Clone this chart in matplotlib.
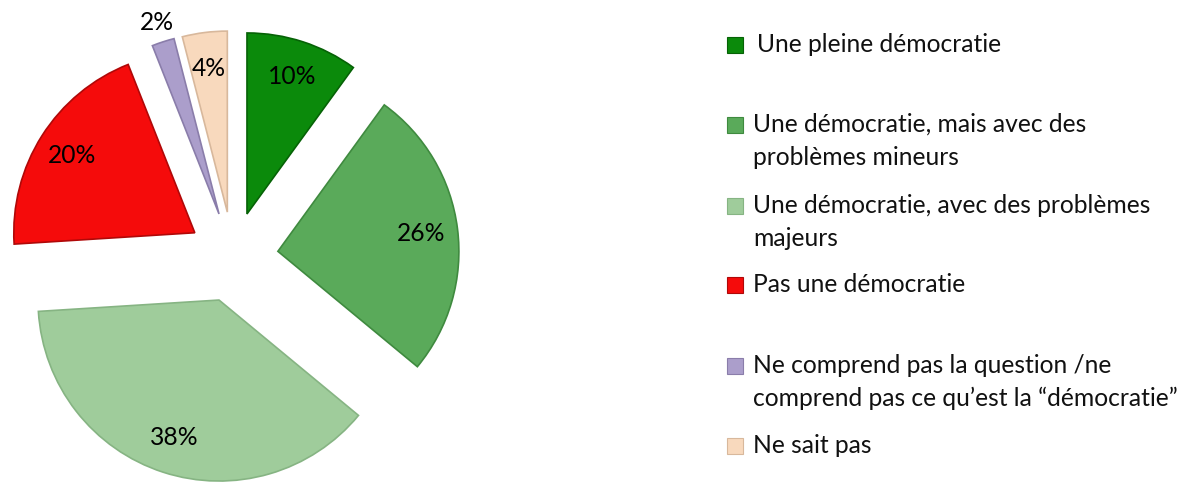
import numpy as np
import matplotlib
matplotlib.use("Agg")
import matplotlib.pyplot as plt
from matplotlib.patches import Rectangle

# data
labels = [
    "Une pleine démocratie",
    "Une démocratie, mais avec des\nproblèmes mineurs",
    "Une démocratie, avec des problèmes\nmajeurs",
    "Pas une démocratie",
    "Ne comprend pas la question /ne\ncomprend pas ce qu\u2019est la \u201cdémocratie\u201d",
    "Ne sait pas",
]
shares = [10, 26, 38, 20, 2, 4]
colors = ["#0b8a0b", "#5aaa5a", "#9fcc9b", "#f50b0b", "#ab9ecb", "#f8d9bd"]
edges = ["#066206", "#3f8a3f", "#86b483", "#b00808", "#8a7daa", "#d8b89c"]

plt.rcParams['font.family'] = ['Lato', 'DejaVu Sans']
FS = 17.7

W, H = 1201, 483
fig = plt.figure(figsize=(W / 100, H / 100), dpi=100)

# pie axes: 181 px per unit radius, centre at (233, 257) px from top-left
R = 181.0
cx, cy = 233.0, 257.0
lim = 1.3
ax = fig.add_axes([(cx - lim * R) / W, (H - cy - lim * R) / H,
                   2 * lim * R / W, 2 * lim * R / H])

wedges, texts, autotexts = ax.pie(
    shares, colors=colors, startangle=90, counterclock=False,
    explode=[0.25] * len(shares), autopct='%d%%', pctdistance=0.8,
    wedgeprops=dict(linewidth=1.2), textprops=dict(fontsize=FS))
for w, ec in zip(wedges, edges):
    w.set_edgecolor(ec)

# the 2% label sits outside its thin slice
w = wedges[4]
mid = np.deg2rad((w.theta1 + w.theta2) / 2)
autotexts[4].set_position((w.center[0] + 1.11 * np.cos(mid),
                           w.center[1] + 1.11 * np.sin(mid)))

ax.set_xlim(-lim, lim)
ax.set_ylim(-lim, lim)
ax.set_aspect('auto')
ax.axis('off')

# legend drawn by hand to keep the uneven spacing
baselines = [52, 132, 213, 292, 373, 453]
text_x = [757, 753, 753, 753, 753, 753]
line_gap = 33
for i, lab in enumerate(labels):
    y0 = baselines[i]
    fig.patches.append(Rectangle((727 / W, (H - y0 - 1) / H), 16 / W, 16 / H,
                                 transform=fig.transFigure, facecolor=colors[i],
                                 edgecolor=edges[i], linewidth=0.8))
    for j, line in enumerate(lab.split("\n")):
        fig.text(text_x[i] / W, (H - y0 - j * line_gap) / H, line,
                 fontsize=FS, va='baseline', ha='left', color='#111111')

fig.savefig("out.png", dpi=100, facecolor='white')
